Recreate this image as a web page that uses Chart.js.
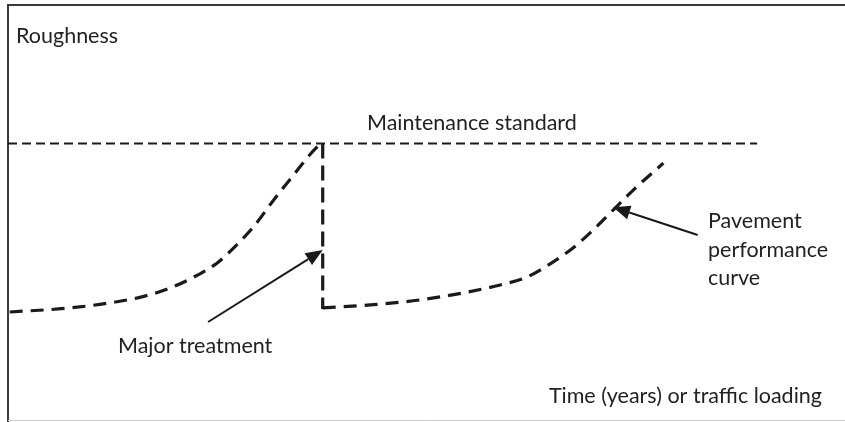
<!DOCTYPE html>
<html>
<head>
<meta charset="utf-8">
<script src="https://cdn.jsdelivr.net/npm/chart.js@4.4.1/dist/chart.umd.min.js"></script>
<style>
  html, body { margin: 0; padding: 0; background: #fff; }
  #wrap { width: 845px; height: 422px; position: relative; }
</style>
</head>
<body>
<div id="wrap"><canvas id="c" width="845" height="422"></canvas></div>
<script>
// ---- Data (x: time / traffic loading, 0-100; y: roughness, 0-100) ----
const maintenanceStandard = 66.7;
const standardExtent = [0, 89.5];
const treatmentTime = 37.6;
const treatmentRoughnessAfter = 26.9;

const curve1X = [0.2, 7.0, 12.2, 16.1, 19.4, 22.1, 25.0, 27.0, 29.3, 31.7, 34.1, 36.7, 37.5];
const curve1Y = [26.2, 27.1, 28.4, 29.9, 32.0, 34.5, 38.0, 41.7, 46.6, 53.0, 59.1, 65.4, 66.7];

const curve2X = [37.6, 43.3, 49.2, 54.4, 58.8, 62.0, 65.1, 67.5, 69.9, 72.3, 74.7, 78.3];
const curve2Y = [27.2, 27.9, 29.1, 30.8, 32.7, 34.6, 38.2, 41.6, 45.9, 50.7, 55.5, 62.0];

const labels = {
  yAxis: "Roughness",
  xAxis: "Time (years) or traffic loading",
  standard: "Maintenance standard",
  treatment: "Major treatment",
  curve: ["Pavement", "performance", "curve"]
};

// arrows: [tailX, tailY, tipX, tipY] in data units
const treatmentArrow = [23.9, 23.8, 37.6, 41.1];
const curveArrow = [82.4, 44.7, 72.3, 51.4];

const pts = (xs, ys) => xs.map((x, i) => ({ x: x, y: ys[i] }));

const FONT = '21.5px Lato, "DejaVu Sans", sans-serif';
const INK = '#1a1a1a';

const annotations = {
  id: 'annotations',
  beforeDraw(chart) {
    const { ctx, chartArea: a } = chart;
    ctx.save();
    // frame
    ctx.strokeStyle = '#3a3a3a';
    ctx.lineWidth = 2;
    ctx.beginPath();
    ctx.moveTo(a.right, a.top);
    ctx.lineTo(a.left, a.top);
    ctx.lineTo(a.left, a.bottom + 1);
    ctx.stroke();
    ctx.strokeStyle = '#cfcfcf';
    ctx.lineWidth = 1;
    ctx.beginPath();
    ctx.moveTo(a.left, a.bottom - 0.5);
    ctx.lineTo(a.right, a.bottom - 0.5);
    ctx.stroke();
    ctx.restore();
  },
  afterDatasetsDraw(chart) {
    const { ctx, scales: { x, y }, chartArea: a } = chart;
    const X = v => x.getPixelForValue(v), Y = v => y.getPixelForValue(v);
    ctx.save();
    // arrows
    const arrow = (arr) => {
      const x0 = X(arr[0]), y0 = Y(arr[1]), x1 = X(arr[2]), y1 = Y(arr[3]);
      const ang = Math.atan2(y1 - y0, x1 - x0);
      const L = 17, W = 7;
      const bx = x1 - L * Math.cos(ang), by = y1 - L * Math.sin(ang);
      ctx.strokeStyle = INK; ctx.lineWidth = 2;
      ctx.beginPath(); ctx.moveTo(x0, y0); ctx.lineTo(bx, by); ctx.stroke();
      ctx.fillStyle = INK;
      ctx.beginPath();
      ctx.moveTo(x1, y1);
      ctx.lineTo(bx + W * Math.sin(ang), by - W * Math.cos(ang));
      ctx.lineTo(bx - W * Math.sin(ang), by + W * Math.cos(ang));
      ctx.closePath(); ctx.fill();
    };
    arrow(treatmentArrow);
    arrow(curveArrow);
    // texts
    ctx.fillStyle = '#222';
    ctx.font = FONT;
    ctx.textBaseline = 'alphabetic';
    ctx.textAlign = 'left';
    ctx.fillText(labels.yAxis, a.left + 8, 43);
    ctx.fillText(labels.standard, 367, 130);
    ctx.fillText(labels.treatment, 118, 353);
    ctx.textAlign = 'right';
    ctx.fillText(labels.xAxis, 822, 403);
    ctx.textAlign = 'left';
    labels.curve.forEach((t, i) => ctx.fillText(t, 708, 228 + i * 28.5));
    ctx.restore();
  }
};

new Chart(document.getElementById('c'), {
  type: 'scatter',
  data: {
    datasets: [
      {
        label: 'Maintenance standard',
        data: [{ x: standardExtent[0], y: maintenanceStandard }, { x: standardExtent[1], y: maintenanceStandard }],
        showLine: true, borderColor: INK, borderWidth: 2, borderDash: [9, 5], pointRadius: 0
      },
      {
        label: 'Curve before treatment',
        data: pts(curve1X, curve1Y),
        showLine: true, borderColor: INK, borderWidth: 3.2, borderDash: [13, 8], pointRadius: 0,
        cubicInterpolationMode: 'monotone', borderCapStyle: 'butt'
      },
      {
        label: 'Major treatment',
        data: [{ x: treatmentTime, y: maintenanceStandard }, { x: treatmentTime, y: treatmentRoughnessAfter }],
        showLine: true, borderColor: INK, borderWidth: 3.2, borderDash: [15, 7], pointRadius: 0
      },
      {
        label: 'Curve after treatment',
        data: pts(curve2X, curve2Y),
        showLine: true, borderColor: INK, borderWidth: 3.2, borderDash: [13, 8], pointRadius: 0,
        cubicInterpolationMode: 'monotone', borderCapStyle: 'butt'
      }
    ]
  },
  options: {
    responsive: false,
    animation: false,
    layout: { padding: { left: 8, top: 5, right: 0, bottom: 1 } },
    plugins: { legend: { display: false }, tooltip: { enabled: false } },
    scales: {
      x: { type: 'linear', min: 0, max: 100, display: false },
      y: { type: 'linear', min: 0, max: 100, display: false }
    }
  },
  plugins: [annotations]
});
</script>
</body>
</html>
